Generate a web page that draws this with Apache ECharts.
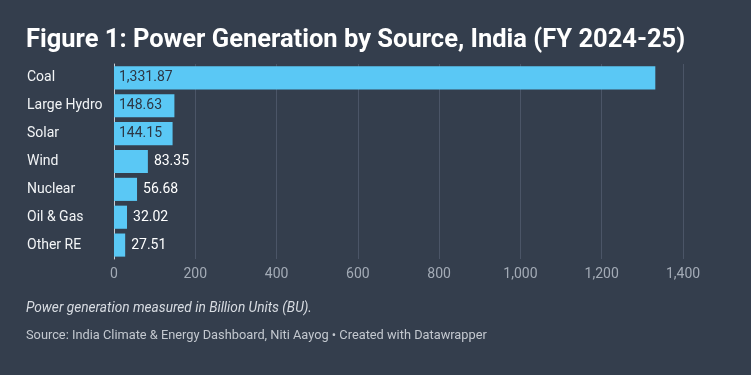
<!DOCTYPE html>
<html>
<head>
<meta charset="utf-8">
<script src="https://cdn.jsdelivr.net/npm/echarts@6/dist/echarts.min.js"></script>
<style>
  html, body { margin: 0; padding: 0; background: #343e4d; }
  #chart { width: 751px; height: 375px; }
</style>
</head>
<body>
<div id="chart"></div>
<script>
const sources = ['Coal', 'Large Hydro', 'Solar', 'Wind', 'Nuclear', 'Oil & Gas', 'Other RE']
const generation = [1331.87, 148.63, 144.15, 83.35, 56.68, 32.02, 27.51]
const xTicks = [0, 200, 400, 600, 800, 1000, 1200, 1400]

const fmt = v => v.toLocaleString('en-US', { minimumFractionDigits: 2, maximumFractionDigits: 2 })

const chart = echarts.init(document.getElementById('chart'))
chart.setOption({
  backgroundColor: '#343e4d',
  animation: false,
  title: [
    {
      text: 'Figure 1: Power Generation by Source, India (FY 2024-25)',
      left: 26,
      top: 28,
      padding: 0,
      textStyle: { color: '#ffffff', fontFamily: 'Roboto', fontWeight: 'bold', fontSize: 25.5 }
    },
    {
      text: 'Power generation measured in Billion Units (BU).',
      left: 26,
      top: 302,
      padding: 0,
      textStyle: { color: '#d8dce2', fontFamily: 'Roboto', fontStyle: 'italic', fontWeight: 'normal', fontSize: 13.7 }
    },
    {
      text: 'Source: India Climate & Energy Dashboard, Niti Aayog \u2022 Created with Datawrapper',
      left: 26,
      top: 329,
      padding: 0,
      textStyle: { color: '#c3c8cf', fontFamily: 'Roboto', fontWeight: 'normal', fontSize: 12.8 }
    }
  ],
  grid: {
    left: 114,
    right: 68,
    top: 64,
    bottom: 116
  },
  xAxis: {
    type: 'value',
    min: xTicks[0],
    max: xTicks[xTicks.length - 1],
    interval: 200,
    axisLine: { show: false },
    axisTick: { show: false },
    axisLabel: {
      color: '#a3abb6',
      fontFamily: 'Roboto',
      fontSize: 14,
      margin: 8,
      formatter: v => v.toLocaleString('en-US')
    },
    splitLine: { lineStyle: { color: '#4b5567', width: 1 } }
  },
  yAxis: {
    type: 'category',
    inverse: true,
    data: sources,
    axisTick: { show: false },
    axisLine: { show: true, lineStyle: { color: '#c9ced5', width: 1 } },
    axisLabel: {
      color: '#f2f4f6',
      fontFamily: 'Roboto',
      fontSize: 14,
      align: 'left',
      margin: 87
    }
  },
  series: [
    {
      type: 'bar',
      barCategoryGap: '17%',
      itemStyle: { color: '#5ac8f5' },
      label: {
        show: true,
        fontFamily: 'Roboto',
        fontSize: 14,
        formatter: p => fmt(p.value)
      },
      data: generation.map(v => ({
        value: v,
        label: v > 100
          ? { position: 'insideLeft', distance: 5, color: '#2c3644' }
          : { position: 'right', distance: 6, color: '#ffffff' }
      }))
    }
  ]
})
</script>
</body>
</html>
